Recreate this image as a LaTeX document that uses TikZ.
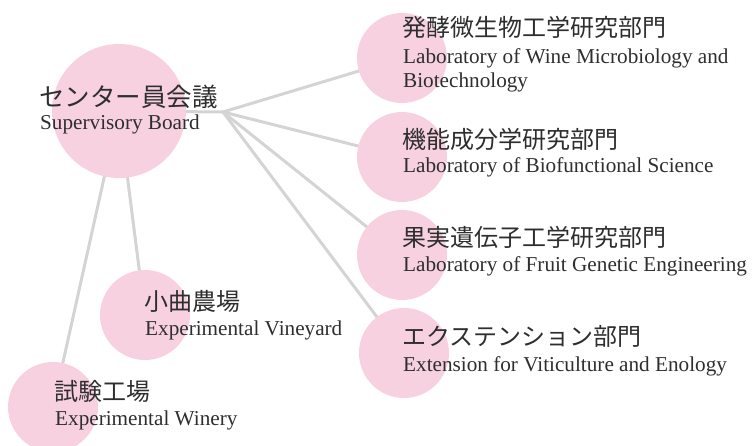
\documentclass[tikz,border=0pt]{standalone}
\usepackage{fontspec}
\setmainfont{Liberation Serif}
\newfontfamily\jpfont{Noto Sans CJK JP}
\usetikzlibrary{backgrounds}
\definecolor{bubble}{HTML}{F7D1E0}
\definecolor{linkgray}{HTML}{D4D4D4}
\definecolor{txt}{HTML}{2E2E2E}
\begin{document}
\begin{tikzpicture}[x=1pt,y=-1pt,
  bubble/.style={circle,fill=bubble,draw=none,inner sep=0pt,minimum size=#1},
  link/.style={draw=linkgray,line width=3pt},
  jp/.style={anchor=base west,inner sep=0pt,text=txt,font=\jpfont\fontsize{24}{24}\selectfont},
  en/.style={anchor=base west,inner sep=0pt,text=txt,font=\fontsize{21.2}{21.2}\selectfont}]
\useasboundingbox (0,0) rectangle (754,446);
% circles
\node[bubble=134pt] (board) at (119,111) {};
\node[bubble=90pt] (c1) at (402,58) {};
\node[bubble=90pt] (c2) at (402,157) {};
\node[bubble=90pt] (c3) at (402,255) {};
\node[bubble=90pt] (c4) at (404,353) {};
\node[bubble=90pt] (c5) at (145,315) {};
\node[bubble=90pt] (c6) at (53,407) {};
\coordinate (hub) at (223,112);
% connectors
\begin{pgfonlayer}{background}
\draw[link] (board.center) -- (hub);
\draw[link] (hub) -- (c1.center);
\draw[link] (hub) -- (c2.center);
\draw[link] (hub) -- (c3.center);
\draw[link] (hub) -- (c4.center);
\draw[link] (board.center) -- (c5.center);
\draw[link] (board.center) -- (c6.center);
\end{pgfonlayer}
% texts
\node[jp,font=\jpfont\fontsize{25.5}{25.5}\selectfont] (boardjp) at (39,107) {センター員会議};
\node[en] (boarden) at (40,130) {Supervisory Board};
\node[jp] (c1jp) at (402,37) {発酵微生物工学研究部門};
\node[en] (c1en) at (403,64) {Laboratory of Wine Microbiology and};
\node[en] (c1en2) at (403,88) {Biotechnology};
\node[jp] (c2jp) at (402,149) {機能成分学研究部門};
\node[en] (c2en) at (403,173) {Laboratory of Biofunctional Science};
\node[jp] (c3jp) at (402,247) {果実遺伝子工学研究部門};
\node[en] (c3en) at (403,271.5) {Laboratory of Fruit Genetic Engineering};
\node[jp] (c4jp) at (402,345) {エクステンション部門};
\node[en] (c4en) at (403,371.5) {Extension for Viticulture and Enology};
\node[jp] (c5jp) at (144,310) {小曲農場};
\node[en] (c5en) at (145,335) {Experimental Vineyard};
\node[jp] (c6jp) at (54,400) {試験工場};
\node[en] (c6en) at (55,425) {Experimental Winery};
\end{tikzpicture}
\end{document}
